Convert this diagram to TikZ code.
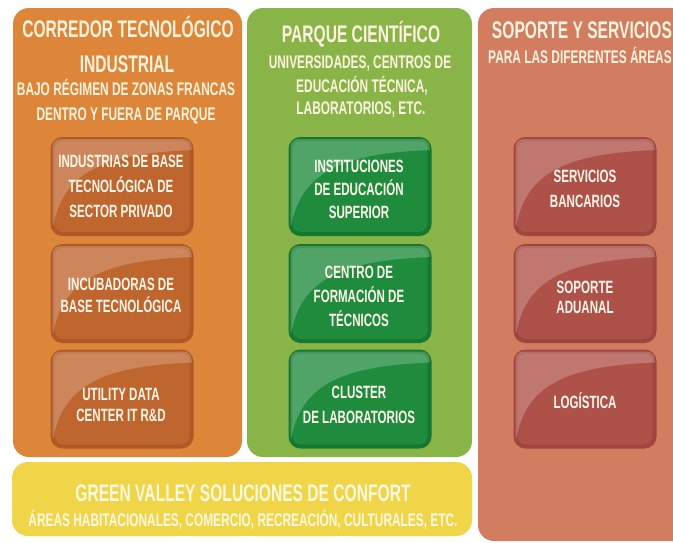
\documentclass[tikz,border=0pt]{standalone}
\usepackage{fontspec}
\newfontfamily\cond{Liberation Sans}[FakeStretch=0.65]
\usetikzlibrary{calc}
\definecolor{opanel}{HTML}{DD863A}
\definecolor{gpanel}{HTML}{88B448}
\definecolor{rpanel}{HTML}{D27C60}
\definecolor{ypanel}{HTML}{F0D548}
\definecolor{oboxc}{HTML}{BF652E}
\definecolor{orim}{HTML}{AE5926}
\definecolor{gboxc}{HTML}{1F8B3D}
\definecolor{grim}{HTML}{16782F}
\definecolor{rboxc}{HTML}{AD5149}
\definecolor{rrim}{HTML}{9F463F}
\definecolor{htext}{HTML}{FDF3DE}
\definecolor{btext}{HTML}{FFF7EA}
\definecolor{ytext}{HTML}{FFF9E3}
\tikzset{
  panel/.style={rounded corners=16pt, inner sep=0pt, minimum width=#1},
  ttl/.style={font=\cond\bfseries\fontsize{24}{24}\selectfont, text=htext, anchor=base, inner sep=0pt},
  subt/.style={font=\cond\bfseries\fontsize{18.3}{18.3}\selectfont, text=htext, anchor=base, inner sep=0pt},
  bx/.style={rounded corners=10pt, line width=4pt, minimum width=139pt, minimum height=95pt, inner sep=0pt},
  obx/.style={bx, draw=orim, fill=oboxc},
  gbx/.style={bx, draw=grim, fill=gboxc},
  rbx/.style={bx, draw=rrim, fill=rboxc},
  btx/.style={font=\cond\bfseries\fontsize{17.8}{17.8}\selectfont, text=btext, anchor=base, inner sep=0pt},
}
\newcommand\glossbox[1]{%
  \begin{scope}
    \clip[rounded corners=8pt] ($(#1.north west)+(2pt,-2pt)$) rectangle ($(#1.south east)+(-2pt,2pt)$);
    \fill[white, fill opacity=0.22] ($(#1.north west)+(-5pt,5pt)$) -- ($(#1.north east)+(5pt,5pt)$)
      -- ($(#1.north west)+(143pt,-13pt)$)
      .. controls ($(#1.north west)+(58pt,-16pt)$) and ($(#1.north west)+(13pt,-33pt)$) ..
      ($(#1.north west)+(3pt,-88pt)$) -- ($(#1.north west)+(-5pt,-95pt)$) -- cycle;
  \end{scope}}
\begin{document}
\begin{tikzpicture}[x=1pt, y=-1pt]
\useasboundingbox (0,0) rectangle (673,542);
\fill[white] (0,0) rectangle (673,542);
\clip (0,0) rectangle (673,542);

% panels
\node[panel=229pt, fill=opanel, minimum height=449pt] (po) at (127.5,232.5) {};
\node[panel=225pt, fill=gpanel, minimum height=449pt] (pg) at (359.5,232.5) {};
\node[panel=222pt, fill=rpanel, minimum height=533pt] (pr) at (589,274.5) {};
\node[panel=460pt, fill=ypanel, minimum height=74pt] (py) at (242,499) {};

% orange header
\node[ttl] (ot1) at (128,37) {CORREDOR TECNOLÓGICO};
\node[ttl] (ot2) at (127,72) {INDUSTRIAL};
\node[subt] (os1) at (126,95) {BAJO RÉGIMEN DE ZONAS FRANCAS};
\node[subt] (os2) at (126,120) {DENTRO Y FUERA DE PARQUE};

% green header
\node[ttl] (gt1) at (361,42) {PARQUE CIENTÍFICO};
\node[subt] (gs1) at (360,68) {UNIVERSIDADES, CENTROS DE};
\node[subt] (gs2) at (362,92) {EDUCACIÓN TÉCNICA,};
\node[subt] (gs3) at (361,114) {LABORATORIOS, ETC.};

% red header
\node[ttl] (rt1) at (582,38) {SOPORTE Y SERVICIOS};
\node[subt] (rs1) at (580,63) {PARA LAS DIFERENTES ÁREAS};

% boxes
\node[obx] (o1) at (122,186.5) {};
\node[obx] (o2) at (122,293.5) {};
\node[obx] (o3) at (122,399) {};
\node[gbx] (g1) at (360,186.5) {};
\node[gbx] (g2) at (360,293.5) {};
\node[gbx] (g3) at (360,399) {};
\node[rbx] (r1) at (585,186.5) {};
\node[rbx] (r2) at (585,293.5) {};
\node[rbx] (r3) at (585,399) {};
\glossbox{o1}\glossbox{o2}\glossbox{o3}
\glossbox{g1}\glossbox{g2}\glossbox{g3}
\glossbox{r1}\glossbox{r2}\glossbox{r3}

% orange box texts
\node[btx] (o1a) at (121,167) {INDUSTRIAS DE BASE};
\node[btx] (o1b) at (121,192) {TECNOLÓGICA DE};
\node[btx] (o1c) at (121,217) {SECTOR PRIVADO};
\node[btx] (o2a) at (121,290) {INCUBADORAS DE};
\node[btx] (o2b) at (121,312) {BASE TECNOLÓGICA};
\node[btx] (o3a) at (121,400) {UTILITY DATA};
\node[btx] (o3b) at (121,421) {CENTER IT R\&D};

% green box texts
\node[btx] (g1a) at (359,172) {INSTITUCIONES};
\node[btx] (g1b) at (359,195) {DE EDUCACIÓN};
\node[btx] (g1c) at (359,218) {SUPERIOR};
\node[btx] (g2a) at (359,278) {CENTRO DE};
\node[btx] (g2b) at (359,302) {FORMACIÓN DE};
\node[btx] (g2c) at (359,326) {TÉCNICOS};
\node[btx] (g3a) at (359,398) {CLUSTER};
\node[btx] (g3b) at (359,423) {DE LABORATORIOS};

% red box texts
\node[btx] (r1a) at (585,182) {SERVICIOS};
\node[btx] (r1b) at (585,207) {BANCARIOS};
\node[btx] (r2a) at (585,293) {SOPORTE};
\node[btx] (r2b) at (585,313) {ADUANAL};
\node[btx] (r3a) at (585,408) {LOGÍSTICA};

% yellow
\node[ttl, text=ytext] (yt) at (243,501) {GREEN VALLEY SOLUCIONES DE CONFORT};
\node[subt, text=ytext] (ys) at (243,526) {ÁREAS HABITACIONALES, COMERCIO, RECREACIÓN, CULTURALES, ETC.};
\end{tikzpicture}
\end{document}
